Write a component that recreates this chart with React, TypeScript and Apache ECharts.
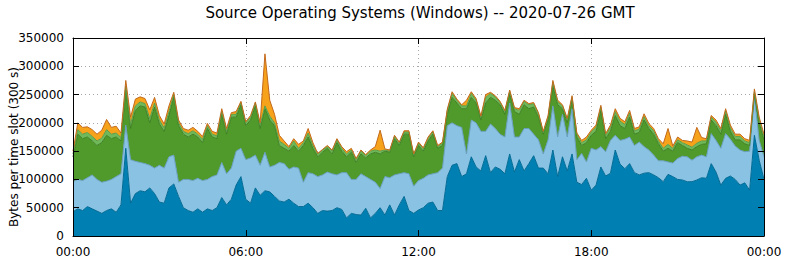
import React, { useEffect, useRef } from "react";
import * as echarts from "echarts";

// 10-minute slots from 00:00 to 24:00
const SLOT_MINUTES = 10;
const xTickLabels = ["00:00", "06:00", "12:00", "18:00", "00:00"];
const title = "Source Operating Systems (Windows) -- 2020-07-26 GMT";
const yTitle = "Bytes per time slot (300 s)";

// bytes per time slot, bottom layer first
const darkBlue = [
  43000, 48000, 45000, 52000, 48000, 44000, 40000, 45000, 48000, 42000,
  55000, 155000, 58000, 75000, 80000, 78000, 85000, 75000, 60000, 58000,
  85000, 92000, 70000, 50000, 45000, 42000, 48000, 42000, 48000, 45000,
  50000, 68000, 55000, 65000, 90000,
  105000, 65000, 58000, 85000, 72000, 80000, 78000, 70000, 62000, 60000,
  65000, 58000, 52000, 52000, 58000, 50000, 40000, 45000, 44000, 45000,
  50000, 47000, 32000, 40000, 38000, 37000, 49000, 32000, 40000, 50000,
  37000, 55000, 37000, 55000, 70000,
  45000, 40000, 46000, 50000, 58000, 60000, 45000, 45000, 105000, 125000,
  128000, 105000, 110000, 140000, 122000, 115000, 142000, 112000, 122000, 118000,
  110000, 145000, 113000, 135000, 115000, 128000, 142000, 120000, 120000, 110000,
  152000, 105000, 140000, 115000, 145000, 95000,
  91000, 102000, 81000, 90000, 122000, 106000, 111000, 152000, 127000, 119000,
  128000, 112000, 108000, 111000, 112000, 108000, 103000, 96000, 109000, 105000,
  100000, 99000, 96000, 96000, 99000, 103000, 102000, 128000, 113000, 90000,
  102000, 106000, 100000, 90000, 94000, 81000, 178000, 134000, 100000,
];

const lightBlue = [
  53000, 52000, 53000, 51000, 60000, 56000, 55000, 52000, 52000, 63000,
  55000, 41000, 77000, 57000, 50000, 50000, 40000, 45000, 65000, 62000,
  55000, 51000, 25000, 50000, 55000, 56000, 54000, 56000, 52000, 60000,
  58000, 62000, 55000, 55000, 60000,
  50000, 70000, 80000, 58000, 53000, 68000, 44000, 55000, 68000, 68000,
  53000, 64000, 68000, 43000, 54000, 60000, 65000, 63000, 69000, 65000,
  58000, 65000, 80000, 60000, 62000, 73000, 56000, 68000, 55000, 34000,
  68000, 48000, 71000, 55000, 42000,
  65000, 48000, 52000, 52000, 50000, 50000, 67000, 75000, 90000, 75000,
  67000, 87000, 35000, 65000, 78000, 70000, 43000, 86000, 68000, 62000,
  65000, 90000, 62000, 40000, 75000, 62000, 38000, 50000, 25000, 60000,
  78000, 70000, 75000, 60000, 80000, 40000,
  55000, 29000, 74000, 62000, 36000, 43000, 58000, 26000, 42000, 52000,
  47000, 48000, 58000, 47000, 40000, 35000, 30000, 37000, 22000, 24000,
  37000, 42000, 44000, 38000, 41000, 40000, 38000, 53000, 56000, 65000,
  79000, 65000, 59000, 62000, 55000, 69000, 68000, 35000, 40000,
];

const darkGreen = [
  44000, 80000, 74000, 72000, 60000, 60000, 70000, 81000, 72000, 70000,
  58000, 62000, 55000, 90000, 100000, 100000, 75000, 108000, 73000, 65000,
  73000, 103000, 100000, 80000, 75000, 82000, 73000, 67000, 90000, 70000,
  64000, 85000, 70000, 90000, 60000,
  77000, 60000, 67000, 87000, 65000, 77000, 83000, 70000, 30000, 27000,
  32000, 38000, 30000, 65000, 63000, 45000, 35000, 40000, 42000, 35000,
  57000, 38000, 28000, 48000, 30000, 35000, 33000, 45000, 53000, 61000,
  45000, 45000, 64000, 50000, 68000,
  70000, 52000, 62000, 48000, 60000, 70000, 43000, 40000, 20000, 45000,
  40000, 33000, 80000, 40000, 35000, 20000, 50000, 47000, 50000, 52000,
  40000, 17000, 45000, 40000, 42000, 35000, 48000, 40000, 35000, 35000,
  35000, 57000, 10000, 25000, 15000, 40000,
  14000, 34000, 23000, 33000, 64000, 23000, 16000, 35000, 26000, 19000,
  35000, 20000, 17000, 47000, 38000, 37000, 30000, 17000, 24000, 21000,
  28000, 19000, 15000, 18000, 18000, 19000, 23000, 24000, 26000, 25000,
  34000, 14000, 11000, 18000, 14000, 10000, 4000, 31000, 30000,
];

const lightGreen = [
  5000, 8000, 8000, 8000, 8000, 8000, 8000, 10000, 8000, 7000,
  6000, 7000, 8000, 8000, 7000, 6000, 8000, 7000, 7000, 6000,
  7000, 4000, 5000, 5000, 6000, 6000, 5000, 6000, 5000, 5000,
  5000, 5000, 5000, 5000, 5000,
  4000, 5000, 5000, 5000, 6000, 5000, 7000, 5000, 8000, 7000,
  5000, 8000, 5000, 5000, 7000, 5000, 5000, 4000, 3000, 5000,
  5000, 5000, 5000, 4000, 5000, 5000, 4000, 5000, 4000, 5000,
  2000, 2000, 4000, 4000, 4000,
  4000, 3000, 4000, 4000, 4000, 4000, 3000, 4000, 7000, 7000,
  5000, 5000, 5000, 7000, 5000, 5000, 10000, 7000, 6000, 4000,
  5000, 4000, 5000, 7000, 6000, 7000, 6000, 6000, 3000, 5000,
  7000, 5000, 5000, 5000, 5000, 5000,
  5000, 5000, 6000, 7000, 6000, 6000, 7000, 7000, 8000, 7000,
  7000, 6000, 6000, 6000, 5000, 6000, 5000, 5000, 7000, 5000,
  5000, 5000, 6000, 5000, 6000, 6000, 5000, 5000, 6000, 6000,
  6000, 6000, 6000, 6000, 5000, 5000, 5000, 6000, 5000,
];

const orange = [
  5000, 12000, 12000, 10000, 12000, 12000, 14000, 18000, 12000, 12000,
  8000, 10000, 12000, 12000, 9000, 9000, 15000, 10000, 8000, 7000,
  10000, 4000, 5000, 5000, 6000, 6000, 5000, 5000, 4000, 5000,
  5000, 5000, 5000, 3000, 5000,
  2000, 2000, 3000, 2000, 4000, 92000, 28000, 15000, 10000, 6000,
  3000, 4000, 7000, 3000, 8000, 5000, 1000, 1000, 2000, 2000,
  2000, 3000, 4000, 3000, 2000, 2000, 2000, 2000, 6000, 37000,
  2000, 2000, 2000, 2000, 2000,
  2000, 2000, 2000, 2000, 3000, 2000, 2000, 2000, 2000, 3000,
  2000, 2000, 10000, 3000, 3000, 2000, 5000, 2000, 2000, 2000,
  2000, 2000, 2000, 3000, 2000, 2000, 2000, 2000, 2000, 3000,
  3000, 3000, 2000, 3000, 3000, 2000,
  4000, 5000, 3000, 4000, 3000, 3000, 4000, 5000, 5000, 5000,
  5000, 4000, 4000, 5000, 4000, 4000, 4000, 8000, 28000, 4000,
  5000, 4000, 7000, 9000, 28000, 6000, 4000, 3000, 4000, 4000,
  4000, 5000, 4000, 4000, 4000, 4000, 5000, 4000, 5000,
];

const FONT = "DejaVu Sans";

export default function App() {
  const ref = useRef<HTMLDivElement>(null);

  useEffect(() => {
    const chart = echarts.init(ref.current!, null, { renderer: "svg" });
    const pad = (n: number) => String(n).padStart(2, "0");
    const slots = darkBlue.map((_, i) => {
      const m = i * SLOT_MINUTES;
      return `${pad(Math.floor(m / 60) % 24)}:${pad(m % 60)}`;
    });
    const step = (slots.length - 1) / (xTickLabels.length - 1); // 36 slots = 6 h
    const everyStep = (idx: number) => idx % step === 0;
    const layers = [
      { name: "L1", data: darkBlue, fill: "#0080b2", edge: "#006a94" },
      { name: "L2", data: lightBlue, fill: "#8ac2e3", edge: "#6a9fc0" },
      { name: "L3", data: darkGreen, fill: "#4f9a2b", edge: "#3f7f22" },
      { name: "L4", data: lightGreen, fill: "#6fb95b", edge: "#5a9e48" },
      { name: "L5", data: orange, fill: "#f7a21b", edge: "#c2691c" },
    ];
    const xBase = { type: "category", data: slots, boundaryGap: false };
    const yBase = { type: "value", min: 0, max: 350000, interval: 50000 };
    const frameLine = { show: true, onZero: false, lineStyle: { color: "#000", width: 1 } };
    const tick = { show: true, inside: true, length: 6, lineStyle: { color: "#000", width: 1 } };
    const xTick = { ...tick, interval: everyStep };
    const grid = { show: true, lineStyle: { color: "#a8a8a8", width: 1, type: [1, 3] } };

    chart.setOption({
      animation: false,
      grid: { left: 73, right: 22, top: 38, bottom: 25, containLabel: false },
      graphic: [
        {
          type: "text",
          x: 420,
          y: 12.5,
          style: {
            text: title,
            fill: "#000",
            font: `15px "${FONT}"`,
            textAlign: "center",
            textVerticalAlign: "middle",
          },
        },
        {
          type: "text",
          x: 14,
          y: 147,
          rotation: Math.PI / 2,
          style: {
            text: yTitle,
            fill: "#000",
            font: `12px "${FONT}"`,
            textAlign: "center",
            textVerticalAlign: "middle",
          },
        },
      ],
      xAxis: [
        {
          ...xBase,
          position: "bottom",
          z: 5,
          axisLine: frameLine,
          axisTick: xTick,
          splitLine: { show: false },
          axisLabel: {
            color: "#000",
            fontFamily: FONT,
            fontSize: 12,
            margin: 10,
            interval: everyStep,
            showMaxLabel: true,
            formatter: (_: string, idx: number) => xTickLabels[Math.round(idx / step)],
          },
        },
        {
          ...xBase,
          position: "top",
          z: 5,
          axisLine: frameLine,
          axisTick: xTick,
          splitLine: { show: false },
          axisLabel: { show: false },
        },
        {
          ...xBase,
          position: "bottom",
          z: 0,
          axisLine: { show: false },
          axisTick: { show: false },
          axisLabel: { show: false },
          splitLine: { ...grid, interval: everyStep },
        },
      ],
      yAxis: [
        {
          ...yBase,
          position: "left",
          z: 5,
          axisLine: frameLine,
          axisTick: tick,
          splitLine: { show: false },
          axisLabel: {
            color: "#000",
            fontFamily: FONT,
            fontSize: 12,
            margin: 9,
            formatter: (v: number) => String(v),
          },
        },
        {
          ...yBase,
          position: "right",
          z: 5,
          axisLine: frameLine,
          axisTick: tick,
          splitLine: { show: false },
          axisLabel: { show: false },
        },
        {
          ...yBase,
          position: "left",
          z: 0,
          axisLine: { show: false },
          axisTick: { show: false },
          axisLabel: { show: false },
          splitLine: grid,
        },
      ],
      series: layers.map((l) => ({
        name: l.name,
        type: "line",
        stack: "total",
        xAxisIndex: 0,
        yAxisIndex: 0,
        data: l.data,
        symbol: "none",
        showSymbol: false,
        lineStyle: { color: l.edge, width: 1 },
        areaStyle: { color: l.fill, opacity: 1 },
        itemStyle: { color: l.fill },
        z: 2,
      })),
    });
    return () => chart.dispose();
  }, []);

  return (
    <div
      ref={ref}
      style={{ position: "absolute", left: 0, top: 0, width: 786, height: 261 }}
    />
  );
}
